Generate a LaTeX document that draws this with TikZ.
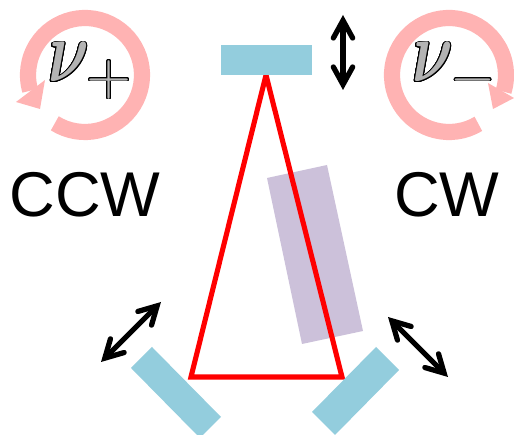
\documentclass[tikz,border=0pt]{standalone}
\usepackage{amsmath}
\usepackage{fontspec}
\setmainfont{Liberation Sans}
\usepackage{contour}
\usepackage{tikz}
\usetikzlibrary{arrows.meta, calc}
\contourlength{0.4pt}
\contournumber{32}

\definecolor{mirrorblue}{HTML}{93CDDD}
\definecolor{crystalpurple}{HTML}{CCC1DA}
\definecolor{ringpink}{HTML}{FFB3B3}
\definecolor{nugray}{HTML}{B3B3B3}

\newcommand{\nulabel}[1]{\contour{black}{\textcolor{nugray}{\scalebox{3.6}[5]{$\boldsymbol{\nu}$}\kern-1.5pt\raisebox{-7pt}{\scalebox{3.3}{$#1$}}}}}

\tikzset{
  mirror/.style={fill=mirrorblue, draw=none},
  crystal/.style={fill=crystalpurple, draw=none},
  beam/.style={draw=red, line width=2.9pt, line join=miter},
  ring/.style={draw=ringpink, line width=9.2pt},
  ringhead/.style={fill=ringpink, draw=none},
  shift arrow/.style={draw=black, line width=3pt, {Straight Barb[length=10pt,width=11pt,line cap=round]}-{Straight Barb[length=10pt,width=11pt,line cap=round]}},
  dirlabel/.style={font=\fontsize{36}{36}\selectfont, text=black, inner sep=0pt},
  nunode/.style={inner sep=0pt, anchor=base west}
}

\begin{document}
\begin{tikzpicture}[x=0.02cm, y=0.02cm]
  \useasboundingbox (0,0) rectangle (514,435);
  % cavity corners
  \coordinate (topcorner) at (266,360);
  \coordinate (leftcorner) at (191,58);
  \coordinate (rightcorner) at (342,58);
  % crystal
  \fill[crystal] (267,257) -- (327,270) -- (363,104) -- (302,91) -- cycle;
  % beam
  \draw[beam] (topcorner) -- (leftcorner) -- (rightcorner) -- cycle;
  % mirrors
  \fill[mirror] (221,390) rectangle (312,360);
  \fill[mirror] (152,88) -- (221,18) -- (203,0) -- (197,0) -- (131,67) -- cycle;
  \fill[mirror] (376,88) -- (399,65) -- (335,0) -- (312,23) -- cycle;
  % mirror motion
  \coordinate (topA) at (343,420);
  \coordinate (topB) at (343,345);
  \coordinate (leftA) at (101,73);
  \coordinate (leftB) at (161,133);
  \coordinate (rightA) at (388,118);
  \coordinate (rightB) at (448,58);
  \foreach \a/\b in {topA/topB, leftA/leftB, rightA/rightB} {
    \draw[shift arrow] (\a) -- (\b);
  }
  % rotation rings
  \coordinate (ringL) at (85,360);
  \coordinate (ringR) at (449,360);
  \draw[ring] ([shift={(238:57)}]ringL) arc[start angle=238, end angle=556, radius=57];
  \fill[ringhead] (16,333) -- (45,355) -- (40,326) -- cycle;
  \draw[ring] ([shift={(-59:57)}]ringR) arc[start angle=-59, end angle=-377, radius=57];
  \fill[ringhead] (488,352) -- (514,337) -- (493,326) -- cycle;
  % labels
  \node[nunode] (nuplus) at (48,353) {\nulabel{+}};
  \node[nunode] (numinus) at (412,353) {\nulabel{-}};
  \node[dirlabel] (ccw) at (85,240) {CCW};
  \node[dirlabel] (cw) at (447,240) {CW};
\end{tikzpicture}
\end{document}
